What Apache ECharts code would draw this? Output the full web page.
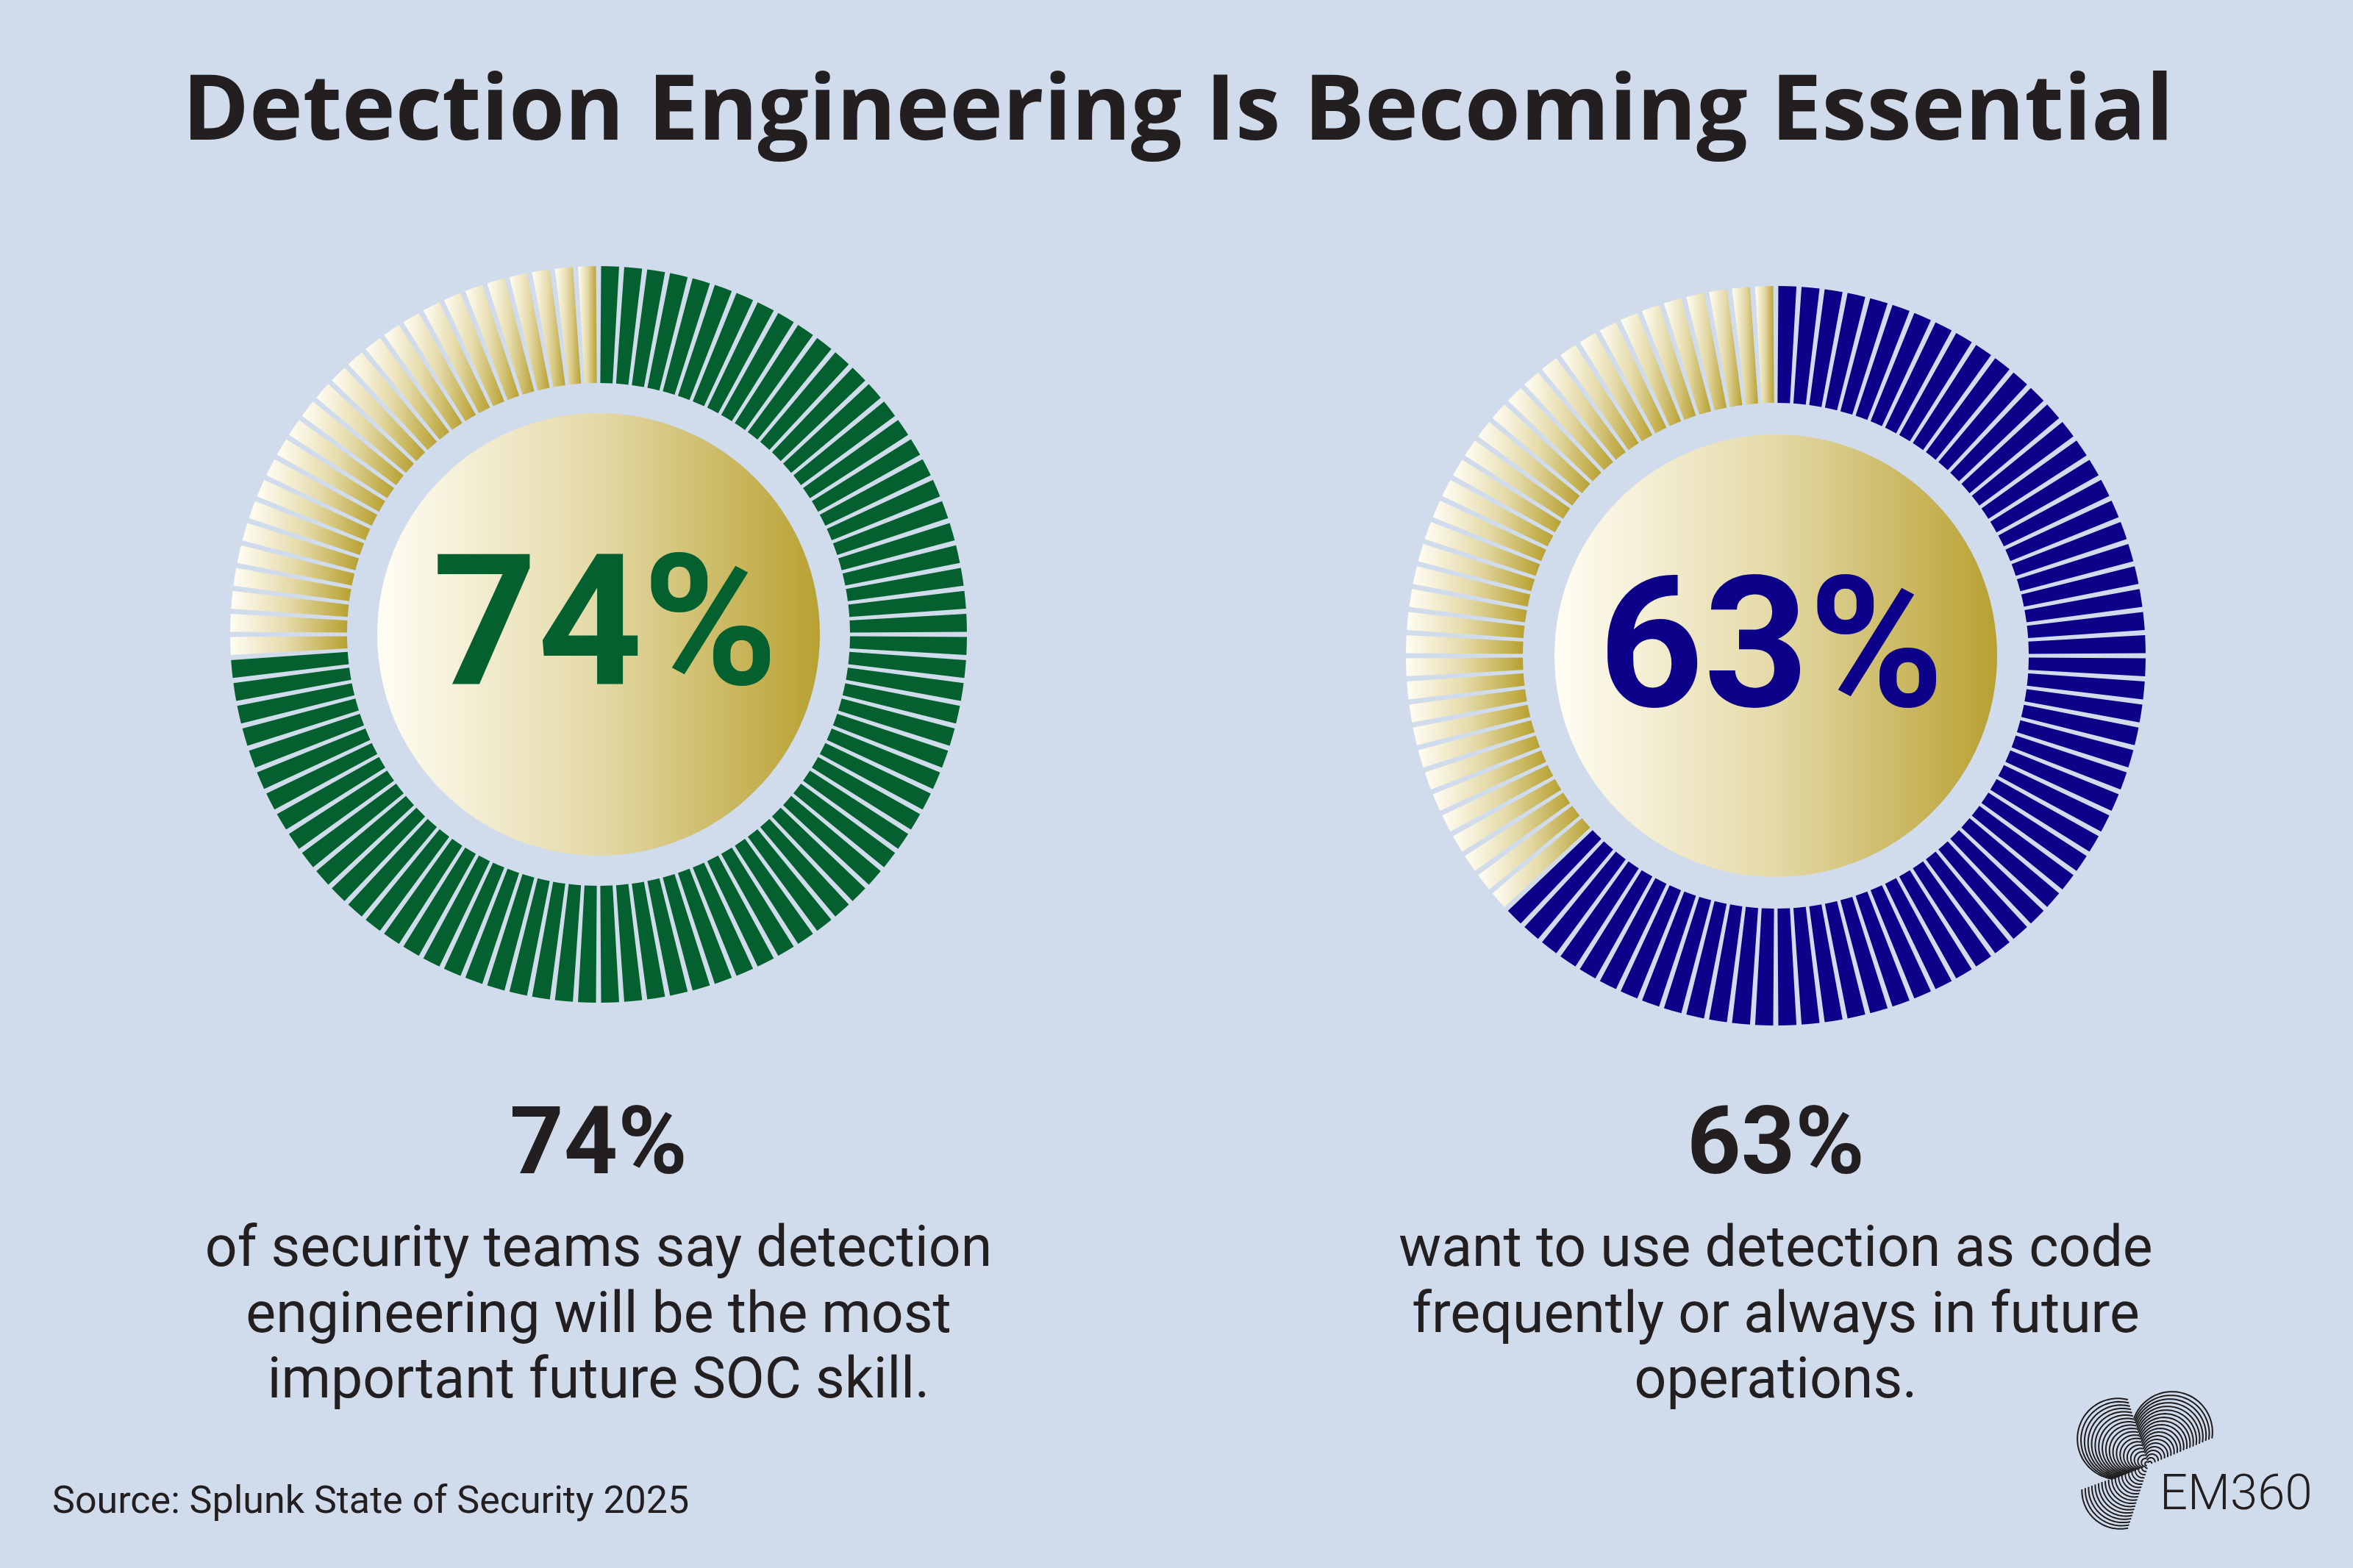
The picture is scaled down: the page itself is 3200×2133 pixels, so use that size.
<!DOCTYPE html>
<html>
<head>
<meta charset="utf-8">
<title>Detection Engineering Is Becoming Essential</title>
<script src="https://cdn.jsdelivr.net/npm/echarts@6/dist/echarts.min.js"></script>
<style>
  html, body { margin: 0; padding: 0; background: #d0dbec; }
  #chart { width: 3200px; height: 2133px; }
</style>
</head>
<body>
<div id="chart"></div>
<script>
// data
const titleText = 'Detection Engineering Is Becoming Essential'
const sourceText = 'Source: Splunk State of Security 2025'
const brandText = 'EM360'
const percentValues = [74, 63]
const percentLabels = ['74%', '63%']
const segmentCount = 100
const descriptions = [
  ['of security teams say detection', 'engineering will be the most', 'important future SOC skill.'],
  ['want to use detection as code', 'frequently or always in future', 'operations.']
]

// layout + styles
const BG = '#d0dbec'
const INK = '#231f20'
const ringColors = ['#04612f', '#0d0089']
const ringCenters = [[814, 863], [2415, 892]]
const ringRadius = [[342, 501], [344, 503]]
const discRadius = 301
const bigLabelPos = [[823, 869], [2409, 899]]
const colX = [814, 2415]

function goldGradient() {
  return new echarts.graphic.LinearGradient(0, 0, 1, 0, [
    { offset: 0, color: '#fffdf4' },
    { offset: 0.5, color: '#e4d9a6' },
    { offset: 1, color: '#b8a131' }
  ])
}

// one pie per ring, one unit slice per percent point
function ringSeries(i) {
  const data = []
  for (let k = 0; k < segmentCount; k++) {
    data.push({
      value: 1,
      itemStyle: { color: k < percentValues[i] ? ringColors[i] : goldGradient() }
    })
  }
  return {
    type: 'pie',
    center: ringCenters[i],
    radius: ringRadius[i],
    startAngle: 90,
    clockwise: true,
    padAngle: 0.8,
    silent: true,
    label: { show: false },
    labelLine: { show: false },
    emphasis: { disabled: true },
    data
  }
}

function discSeries(i) {
  return {
    type: 'pie',
    center: ringCenters[i],
    radius: [0, discRadius],
    silent: true,
    label: { show: false },
    labelLine: { show: false },
    emphasis: { disabled: true },
    data: [{ value: 1, itemStyle: { color: goldGradient() } }]
  }
}

function text(x, y, str, size, weight, color, family, align) {
  return {
    type: 'text',
    x, y,
    z: 100,
    silent: true,
    style: {
      text: str,
      fontSize: size,
      fontWeight: weight,
      fontFamily: family || 'Roboto',
      fill: color || INK,
      align: align || 'center',
      textAlign: align || 'center',
      verticalAlign: 'middle',
      textVerticalAlign: 'middle'
    }
  }
}

// EM360 mark: families of circles tangent at one point, clipped to wedges
function logoArcs() {
  const p0 = [2922, 1993]
  const lobes = [
    { beta: -54.6, a1: -107.5, a2: -22.9, R: 55 },
    { beta: -139.5, a1: -201.3, a2: -107.5, R: 55 },
    { beta: 138, a1: 108, a2: 160, R: 52 }
  ]
  const n = 20
  const out = []
  lobes.forEach(function (l) {
    const b = l.beta * Math.PI / 180
    for (let i = 1; i <= n; i++) {
      const r = l.R * i / n
      const pts = []
      for (let s = 0; s <= 48; s++) {
        const a = (l.a1 + (l.a2 - l.a1) * s / 48) * Math.PI / 180
        const d = 2 * r * Math.cos(a - b)
        pts.push([p0[0] + d * Math.cos(a), p0[1] + d * Math.sin(a)])
      }
      out.push({
        type: 'polyline',
        z: 100,
        silent: true,
        shape: { points: pts },
        style: { stroke: '#1f1c1d', lineWidth: 2, fill: null }
      })
    }
  })
  return out
}

const graphics = []
graphics.push(text(1602, 155, titleText, 123, 700, INK, 'Open Sans'))
percentLabels.forEach(function (lab, i) {
  graphics.push(text(bigLabelPos[i][0], bigLabelPos[i][1], lab, 249, 700, ringColors[i]))
  graphics.push(text(colX[i], 1564, lab, 128, 700, INK))
  descriptions[i].forEach(function (line, j) {
    graphics.push(text(colX[i], 1703 + j * 89.5, line, 77, 400, INK))
  })
})
graphics.push(text(71, 2045, sourceText, 52, 400, INK, 'Roboto', 'left'))
graphics.push(text(2937, 2036, brandText, 67, 300, INK, 'Roboto', 'left'))
logoArcs().forEach(function (g) { graphics.push(g) })

const chart = echarts.init(document.getElementById('chart'))
chart.setOption({
  backgroundColor: BG,
  animation: false,
  series: [discSeries(0), discSeries(1), ringSeries(0), ringSeries(1)],
  graphic: graphics
})
</script>
</body>
</html>
